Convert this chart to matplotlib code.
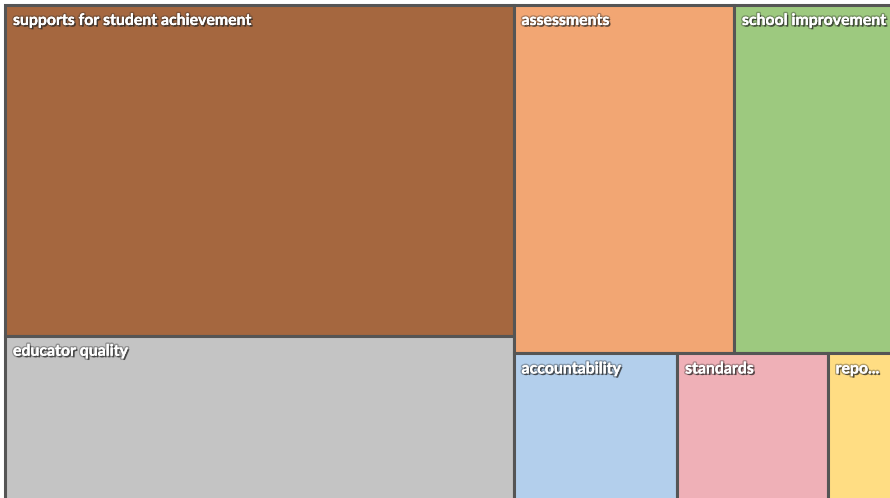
import matplotlib
matplotlib.use("Agg")
import matplotlib.pyplot as plt
import matplotlib.patches as mpatches
import matplotlib.patheffects as pe

# data (mention counts)
labels = ["supports for student achievement", "educator quality", "assessments",
          "school improvement", "accountability", "standards", "repo..."]
values = [173, 87, 79, 57, 25, 23, 10]
colors = ["#A5673F", "#C4C4C4", "#F2A673", "#9DC97F", "#B3CFEC", "#EFB0B7", "#FFDD83"]

W, H = 888.0, 497.0  # layout units = pixels


def layout(vals):
    # left column holds the first two, right side splits into a row of two and a row of three
    total = sum(vals)
    rects = []
    lw = W * (vals[0] + vals[1]) / total
    h0 = H * vals[0] / (vals[0] + vals[1])
    rects.append((0, 0, lw, h0))
    rects.append((0, h0, lw, H - h0))
    rw = W - lw
    top = vals[2:4]
    bot = vals[4:]
    th = H * sum(top) / sum(vals[2:])
    x = lw
    for v in top:
        w = rw * v / sum(top)
        rects.append((x, 0, w, th))
        x += w
    x = lw
    for v in bot:
        w = rw * v / sum(bot)
        rects.append((x, th, w, H - th))
        x += w
    return rects


fig = plt.figure(figsize=(8.9, 4.98), dpi=100)
ax = fig.add_axes([5 / 890, -4 / 498, W / 890, H / 498])
ax.set_xlim(0, W)
ax.set_ylim(H, 0)
ax.axis("off")

shadow = [pe.withSimplePatchShadow(offset=(1.2, -1.2), shadow_rgbFace="#222222", alpha=0.7),
          pe.withStroke(linewidth=2.2, foreground=(0.2, 0.2, 0.2, 0.35)),
          pe.Normal()]

for (x, y, w, h), lab, c in zip(layout(values), labels, colors):
    ax.add_patch(mpatches.Rectangle((x, y), w, h, facecolor=c, edgecolor="#555555",
                                    linewidth=2.2, clip_on=False))
    ax.text(x + 8, y + 9, lab, color="white", fontsize=11.4, fontweight="bold",
            family=["Lato", "DejaVu Sans"], va="top", ha="left", path_effects=shadow)

fig.savefig("out.png", dpi=100)
